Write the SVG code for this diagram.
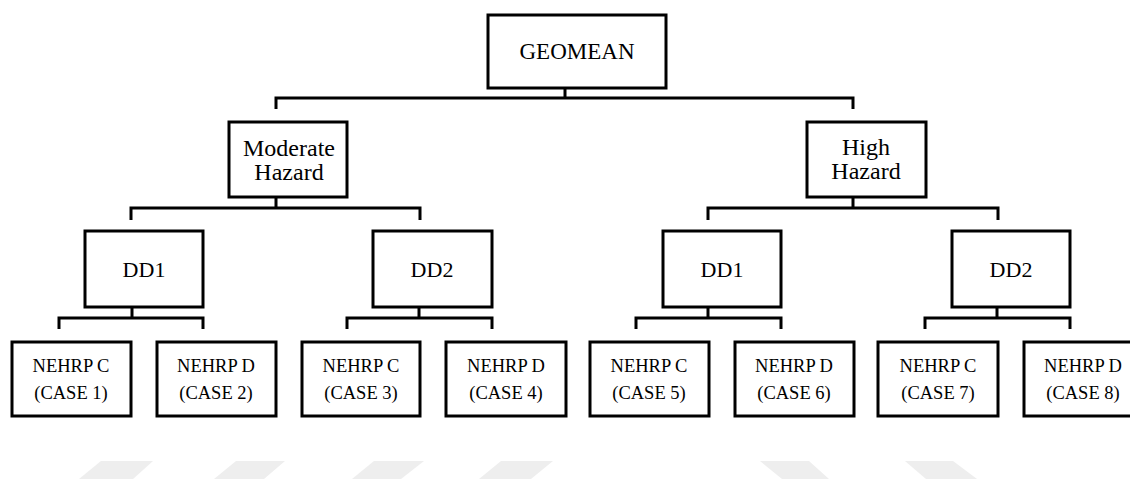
<svg xmlns="http://www.w3.org/2000/svg" width="1130" height="479" viewBox="0 0 1130 479">
<style>
.box{fill:#fff;stroke:#000;stroke-width:3}
.con{fill:none;stroke:#000;stroke-width:3;stroke-linejoin:miter}
text{font-family:"Liberation Serif","Times New Roman",serif;fill:#000;text-anchor:middle}
.t0{font-size:23px}
.th{font-size:24px}
.t1{font-size:22px}
.t2{font-size:18.5px}
.wm{fill:#eeeeee}
</style>
<rect width="1130" height="479" fill="#fff"/>
<g id="watermark">
<polygon class="wm" points="101,461 153,461 133,479 79,479"/>
<polygon class="wm" points="236,461 285,461 264,479 214,479"/>
<polygon class="wm" points="374,461 424,461 401,479 352,479"/>
<polygon class="wm" points="501,461 553,461 531,479 479,479"/>
<polygon class="wm" points="760,461 809,461 829,479 782,479"/>
<polygon class="wm" points="905,461 953,461 977,479 926,479"/>
</g>
<g id="connectors">
<path class="con" d="M565,88 V98 M276,109 V98 H853 V109"/>
<path class="con" d="M276,197 V208 M131,220 V208 H420 V220"/>
<path class="con" d="M853,197 V208 M708,220 V208 H998 V220"/>
<path class="con" d="M132,307 V318 M59,329 V318 H203 V329"/>
<path class="con" d="M419,307 V318 M347,329 V318 H492 V329"/>
<path class="con" d="M708,307 V318 M636,329 V318 H781 V329"/>
<path class="con" d="M997,307 V318 M925,329 V318 H1070 V329"/>
</g>
<g id="geomean"><rect class="box" x="488" y="15" width="178" height="73"/><text class="t0" x="577" y="59">GEOMEAN</text></g>
<g id="moderate"><rect class="box" x="229" y="122" width="118" height="75"/><text class="th" x="289" y="156">Moderate</text><text class="th" x="289" y="180">Hazard</text></g>
<g id="high"><rect class="box" x="807" y="122" width="119" height="75"/><text class="th" x="866" y="155">High</text><text class="th" x="866" y="179">Hazard</text></g>
<g id="m-dd1"><rect class="box" x="85" y="231" width="118" height="76"/><text class="t1" x="144" y="277">DD1</text></g>
<g id="m-dd2"><rect class="box" x="373" y="231" width="119" height="76"/><text class="t1" x="432" y="277">DD2</text></g>
<g id="h-dd1"><rect class="box" x="663" y="231" width="118" height="76"/><text class="t1" x="722" y="277">DD1</text></g>
<g id="h-dd2"><rect class="box" x="952" y="231" width="118" height="76"/><text class="t1" x="1011" y="277">DD2</text></g>
<g id="case1"><rect class="box" x="12" y="342" width="119" height="74"/><text class="t2" x="71" y="372">NEHRP C</text><text class="t2" x="71" y="399">(CASE 1)</text></g>
<g id="case2"><rect class="box" x="157" y="342" width="119" height="74"/><text class="t2" x="216" y="372">NEHRP D</text><text class="t2" x="216" y="399">(CASE 2)</text></g>
<g id="case3"><rect class="box" x="302" y="342" width="118" height="74"/><text class="t2" x="361" y="372">NEHRP C</text><text class="t2" x="361" y="399">(CASE 3)</text></g>
<g id="case4"><rect class="box" x="446" y="342" width="120" height="74"/><text class="t2" x="506" y="372">NEHRP D</text><text class="t2" x="506" y="399">(CASE 4)</text></g>
<g id="case5"><rect class="box" x="590" y="342" width="119" height="74"/><text class="t2" x="649" y="372">NEHRP C</text><text class="t2" x="649" y="399">(CASE 5)</text></g>
<g id="case6"><rect class="box" x="735" y="342" width="119" height="74"/><text class="t2" x="794" y="372">NEHRP D</text><text class="t2" x="794" y="399">(CASE 6)</text></g>
<g id="case7"><rect class="box" x="878" y="342" width="120" height="74"/><text class="t2" x="938" y="372">NEHRP C</text><text class="t2" x="938" y="399">(CASE 7)</text></g>
<g id="case8"><rect class="box" x="1024" y="342" width="119" height="74"/><text class="t2" x="1083" y="372">NEHRP D</text><text class="t2" x="1083" y="399">(CASE 8)</text></g>
</svg>
